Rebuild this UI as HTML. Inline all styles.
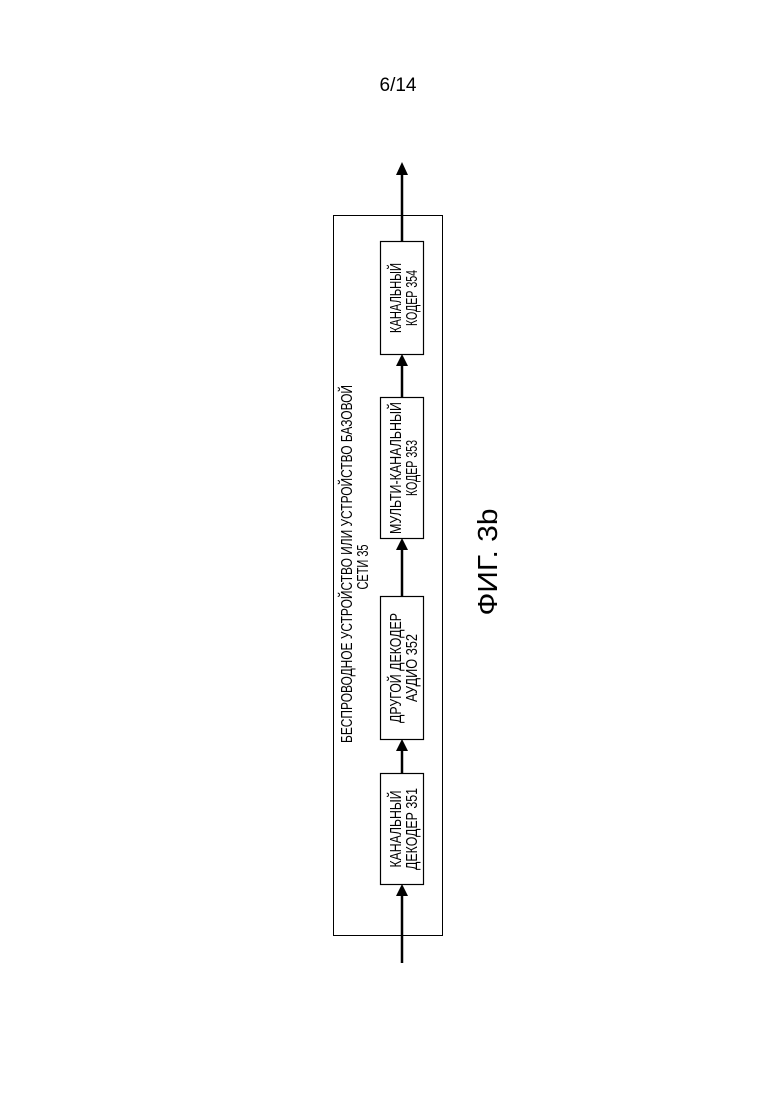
<!DOCTYPE html>
<html><head><meta charset="utf-8"><style>
html,body{margin:0;padding:0;background:#fff;}
svg{display:block;}
text{font-family:"Liberation Sans",sans-serif;fill:#000;}
</style></head><body>
<svg width="780" height="1103" viewBox="0 0 780 1103" xmlns="http://www.w3.org/2000/svg">
<text x="398" y="91" font-size="19" text-anchor="middle">6/14</text>
<rect x="333.5" y="215.5" width="109" height="720" fill="none" stroke="#000" stroke-width="1"/>
<g fill="#fff" stroke="#000" stroke-width="1.2">
<rect x="380.5" y="241.5" width="43" height="113"/>
<rect x="380.5" y="397.5" width="43" height="141"/>
<rect x="380.5" y="596.5" width="43" height="143"/>
<rect x="380.5" y="773.5" width="43" height="111"/>
</g>
<g stroke="#000" stroke-width="2.5">
<line x1="402" y1="963" x2="402" y2="895"/>
<line x1="402" y1="773" x2="402" y2="750"/>
<line x1="402" y1="596" x2="402" y2="549"/>
<line x1="402" y1="397" x2="402" y2="365"/>
<line x1="402" y1="241" x2="402" y2="172"/>
</g>
<g fill="#000">
<polygon points="402,884 396,896 408,896"/>
<polygon points="402,739 396,751 408,751"/>
<polygon points="402,538 396,550 408,550"/>
<polygon points="402,354 396,366 408,366"/>
<polygon points="402,162 396,175 408,175"/>
</g>
<g font-size="16" text-anchor="middle">
<text transform="translate(352,564) rotate(-90)" textLength="358" lengthAdjust="spacingAndGlyphs">БЕСПРОВОДНОЕ УСТРОЙСТВО ИЛИ УСТРОЙСТВО БАЗОВОЙ</text>
<text transform="translate(368,567) rotate(-90)" textLength="45" lengthAdjust="spacingAndGlyphs">СЕТИ  35</text>

<text transform="translate(401,298) rotate(-90)" textLength="70" lengthAdjust="spacingAndGlyphs">КАНАЛЬНЫЙ</text>
<text transform="translate(417,298) rotate(-90)" textLength="56" lengthAdjust="spacingAndGlyphs">КОДЕР  354</text>

<text transform="translate(401,468) rotate(-90)" textLength="132" lengthAdjust="spacingAndGlyphs">МУЛЬТИ-КАНАЛЬНЫЙ</text>
<text transform="translate(417,468) rotate(-90)" textLength="56" lengthAdjust="spacingAndGlyphs">КОДЕР  353</text>

<text transform="translate(401,668) rotate(-90)" textLength="110" lengthAdjust="spacingAndGlyphs">ДРУГОЙ ДЕКОДЕР</text>
<text transform="translate(417,668) rotate(-90)" textLength="68" lengthAdjust="spacingAndGlyphs">АУДИО  352</text>

<text transform="translate(401,829) rotate(-90)" textLength="77" lengthAdjust="spacingAndGlyphs">КАНАЛЬНЫЙ</text>
<text transform="translate(417,829) rotate(-90)" textLength="82" lengthAdjust="spacingAndGlyphs">ДЕКОДЕР  351</text>
</g>
<text transform="translate(497,562) rotate(-90)" font-size="28" text-anchor="middle" textLength="107" lengthAdjust="spacingAndGlyphs">ФИГ. 3b</text>
</svg>
</body></html>
